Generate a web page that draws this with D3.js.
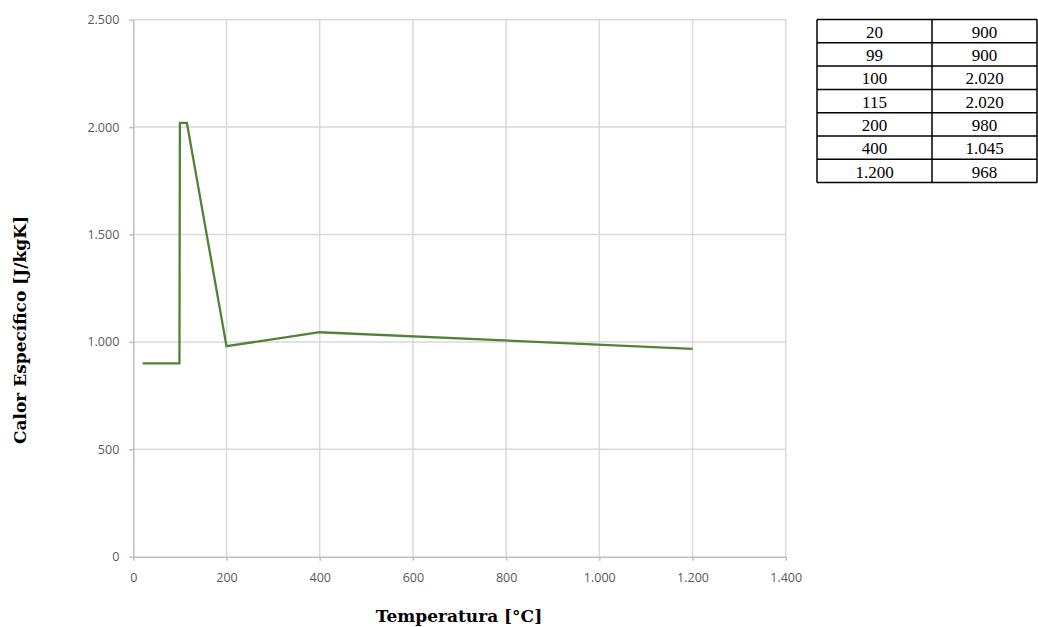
<!DOCTYPE html>
<html>
<head>
<meta charset="utf-8">
<script src="https://cdn.jsdelivr.net/npm/d3@7"></script>
<style>
  body { margin: 0; background: #fff; }
  svg { display: block; }
</style>
</head>
<body>
<svg width="1038" height="627"></svg>
<script>
// temperatura [°C] and calor especifico [J/kgK]
const temps = [20, 99, 100, 115, 200, 400, 1200]
const calor = [900, 900, 2020, 2020, 980, 1045, 968]

const xTicks = [0, 200, 400, 600, 800, 1000, 1200, 1400]
const yTicks = [0, 500, 1000, 1500, 2000, 2500]

const loc = d3.formatLocale({ decimal: ",", thousands: ".", grouping: [3], currency: ["", "€"] })
const fmt = loc.format(",d")

const svg = d3.select("svg")

const x = d3.scaleLinear().domain([0, 1400]).range([133.3, 785.7])
const y = d3.scaleLinear().domain([0, 2500]).range([556.7, 19.7])

const grid = svg.append("g")

// vertical grid
grid.selectAll("line.v")
  .data(xTicks.slice(1))
  .enter()
  .append("line")
  .attr("x1", d => x(d)).attr("x2", d => x(d))
  .attr("y1", y(2500)).attr("y2", y(0))
  .attr("stroke", "#d9d9d9")
  .attr("stroke-width", 1.5)

// horizontal grid
grid.selectAll("line.h")
  .data(yTicks.slice(1))
  .enter()
  .append("line")
  .attr("x1", x(0)).attr("x2", x(1400))
  .attr("y1", d => y(d)).attr("y2", d => y(d))
  .attr("stroke", "#d9d9d9")
  .attr("stroke-width", 1.5)

const xAxis = svg.append("g")
  .attr("transform", `translate(0, ${y(0)})`)
  .call(d3.axisBottom(x).tickValues(xTicks).tickFormat(fmt).tickSize(4).tickSizeOuter(0))

const yAxis = svg.append("g")
  .attr("transform", `translate(${x(0)}, 0)`)
  .call(d3.axisLeft(y).tickValues(yTicks).tickFormat(fmt).tickSize(4).tickSizeOuter(0))

svg.selectAll(".domain, .tick line")
  .attr("stroke", "#bfbfbf")
  .attr("stroke-width", 1.5)

svg.selectAll(".tick text")
  .attr("fill", "#595959")
  .style("font-family", "'Open Sans', sans-serif")
  .style("font-size", "12.5px")

xAxis.selectAll(".tick text").attr("y", 12).attr("dy", "1.05em")
yAxis.selectAll(".tick text").attr("x", -14)

// the curve
const line = d3.line()
  .x((d, i) => x(temps[i]))
  .y(d => y(d))

svg.append("path")
  .datum(calor)
  .attr("d", line)
  .attr("fill", "none")
  .attr("stroke", "#548235")
  .attr("stroke-width", 2.3)
  .attr("stroke-linejoin", "miter")

// axis titles
svg.append("text")
  .attr("x", 459)
  .attr("y", 622)
  .attr("text-anchor", "middle")
  .style("font-family", "'DejaVu Serif', serif")
  .style("font-weight", "bold")
  .style("font-size", "17px")
  .text("Temperatura [°C]")

svg.append("text")
  .attr("transform", "translate(26, 330) rotate(-90)")
  .attr("text-anchor", "middle")
  .style("font-family", "'DejaVu Serif', serif")
  .style("font-weight", "bold")
  .style("font-size", "17px")
  .text("Calor Específico [J/kgK]")

// data table in the corner
const tLeft = 817, tMid = 932, tRight = 1037
const tTop = 19.5, rowH = 23.3

const table = svg.append("g")

const rows = table.selectAll("g.row")
  .data(temps)
  .enter()
  .append("g")
  .attr("transform", (d, i) => `translate(0, ${tTop + i * rowH})`)

rows.append("line")
  .attr("x1", tLeft).attr("x2", tRight)
  .attr("y1", 0).attr("y2", 0)
  .attr("stroke", "#000").attr("stroke-width", 1.5)

rows.append("text")
  .attr("x", (tLeft + tMid) / 2)
  .attr("y", rowH - 5)
  .attr("text-anchor", "middle")
  .style("font-family", "'Liberation Serif', serif")
  .style("font-size", "17px")
  .text(d => fmt(d))

rows.append("text")
  .attr("x", (tMid + tRight) / 2)
  .attr("y", rowH - 5)
  .attr("text-anchor", "middle")
  .style("font-family", "'Liberation Serif', serif")
  .style("font-size", "17px")
  .text((d, i) => fmt(calor[i]))

const tBottom = tTop + temps.length * rowH
table.append("line")
  .attr("x1", tLeft).attr("x2", tRight)
  .attr("y1", tBottom).attr("y2", tBottom)
  .attr("stroke", "#000").attr("stroke-width", 1.5)

table.selectAll("line.col")
  .data([tLeft, tMid, tRight])
  .enter()
  .append("line")
  .attr("x1", d => d).attr("x2", d => d)
  .attr("y1", tTop).attr("y2", tBottom)
  .attr("stroke", "#000").attr("stroke-width", 1.5)
</script>
</body>
</html>
